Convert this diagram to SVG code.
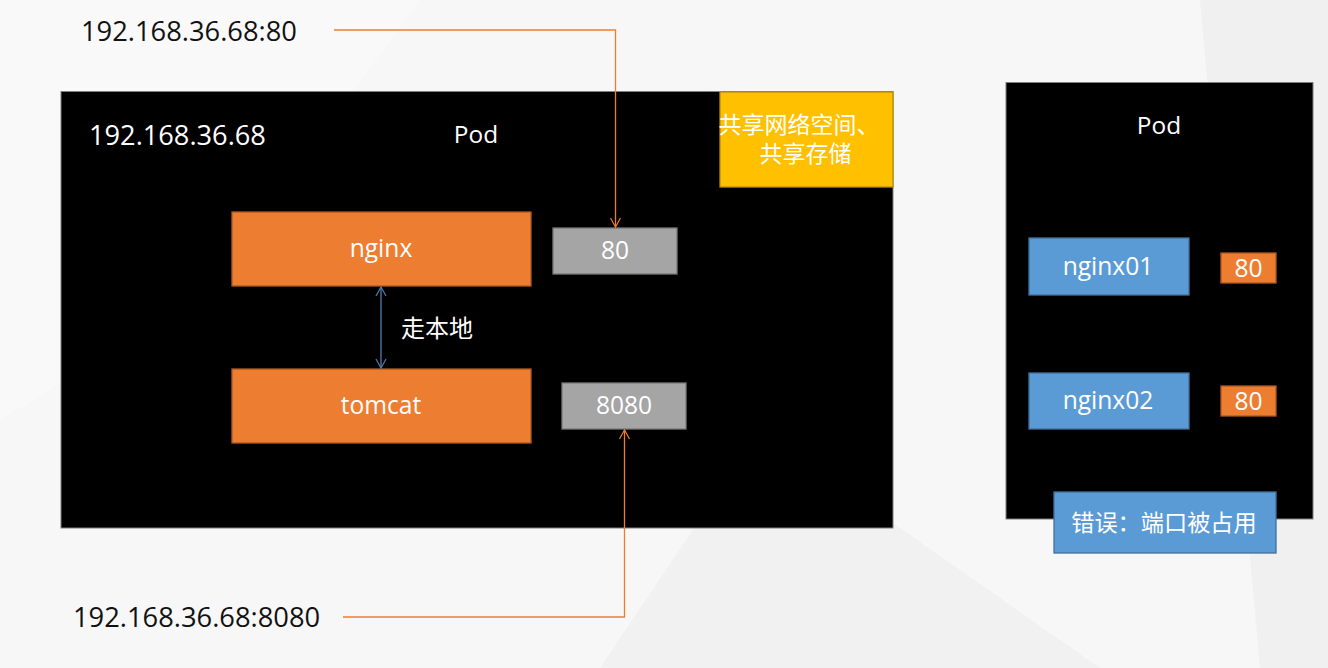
<svg xmlns="http://www.w3.org/2000/svg" width="1328" height="668" viewBox="0 0 1328 668">
<style>
text{font-family:"Open Sans","Noto Sans","Noto Sans CJK SC",sans-serif;fill:#fff}
.dark{fill:#111}
.c{text-anchor:middle}
.pod{fill:#000;stroke:#7f7f7f;stroke-width:1}
.org{fill:#ED7D31;stroke:#AE5A21;stroke-width:1.3}
.gry{fill:#A5A5A5;stroke:#787878;stroke-width:1.3}
.blu{fill:#5B9BD5;stroke:#41719C;stroke-width:1.3}
.ylw{fill:#FFC000;stroke:#BC8C00;stroke-width:1.3}
.oline{fill:none;stroke:#ED7D31;stroke-width:1.3}
.bline{fill:none;stroke:#4F7FB0;stroke-width:1.3}
</style>
<defs>
<marker id="ao" markerWidth="12" markerHeight="12" refX="10" refY="6" orient="auto" markerUnits="userSpaceOnUse">
<path d="M1,1 L10,6 L1,11" fill="none" stroke="#ED7D31" stroke-width="1.2"/>
</marker>
<marker id="ab" markerWidth="12" markerHeight="12" refX="10" refY="6" orient="auto-start-reverse" markerUnits="userSpaceOnUse">
<path d="M1,1 L10,6 L1,11" fill="none" stroke="#4F7FB0" stroke-width="1.2"/>
</marker>
</defs>
<g id="background">
<rect x="0" y="0" width="1328" height="668" fill="#f7f7f7"/>
<polygon points="0,0 420,0 200,300 0,420" fill="#f9f9f9"/>
<polygon points="600,668 760,430 1100,668" fill="#f1f1f1"/>
<polygon points="1200,0 1328,0 1328,668 1260,668" fill="#f0f0f0"/>
</g>
<g id="pod-main">
<rect class="pod" x="61" y="91.5" width="832" height="436.5"/>
<text x="89" y="145" font-size="27.2">192.168.36.68</text>
<text x="476" y="143" font-size="24.4" class="c">Pod</text>
</g>
<g id="shared-note">
<rect class="ylw" x="720" y="92" width="173" height="95"/>
<text x="799" y="133" font-size="23" class="c">共享网络空间、</text>
<text x="805.5" y="162" font-size="23" class="c">共享存储</text>
</g>
<g id="nginx">
<rect class="org" x="232" y="212" width="299" height="74"/>
<text x="381" y="257" font-size="24.6" class="c">nginx</text>
</g>
<g id="tomcat">
<rect class="org" x="232" y="369" width="299" height="74"/>
<text x="381" y="414" font-size="24.6" class="c">tomcat</text>
</g>
<g id="port-80">
<rect class="gry" x="553" y="228" width="124" height="46"/>
<text x="615" y="259" font-size="24.6" class="c">80</text>
</g>
<g id="port-8080">
<rect class="gry" x="562" y="383" width="124" height="46"/>
<text x="624" y="414" font-size="24.6" class="c">8080</text>
</g>
<g id="label-local">
<text x="401" y="337" font-size="24">走本地</text>
</g>
<g id="label-80">
<text x="81" y="41" font-size="27.3" class="dark">192.168.36.68:80</text>
</g>
<g id="label-8080">
<text x="73" y="627" font-size="27.3" class="dark">192.168.36.68:8080</text>
</g>
<g id="pod-right">
<rect class="pod" x="1006" y="82.5" width="307" height="436.5"/>
<text x="1159" y="134" font-size="24.4" class="c">Pod</text>
</g>
<g id="nginx01">
<rect class="blu" x="1029" y="238" width="160" height="57"/>
<text x="1108" y="275" font-size="24.6" class="c">nginx01</text>
</g>
<g id="port01">
<rect class="org" x="1221" y="253" width="55" height="30"/>
<text x="1248.5" y="277" font-size="24.6" class="c">80</text>
</g>
<g id="nginx02">
<rect class="blu" x="1029" y="373" width="160" height="56"/>
<text x="1108" y="409" font-size="24.6" class="c">nginx02</text>
</g>
<g id="port02">
<rect class="org" x="1221" y="386" width="55" height="30"/>
<text x="1248.5" y="410" font-size="24.6" class="c">80</text>
</g>
<g id="error">
<rect class="blu" x="1054" y="492" width="222" height="61"/>
<text x="1164" y="531" font-size="23.2" class="c">错误：端口被占用</text>
</g>
<g id="connectors">
<polyline class="oline" points="334,30 615.5,30 615.5,227" marker-end="url(#ao)"/>
<polyline class="oline" points="343,617 624.5,617 624.5,430" marker-end="url(#ao)"/>
<line class="bline" x1="381" y1="287" x2="381" y2="368" marker-start="url(#ab)" marker-end="url(#ab)"/>
</g>
</svg>
